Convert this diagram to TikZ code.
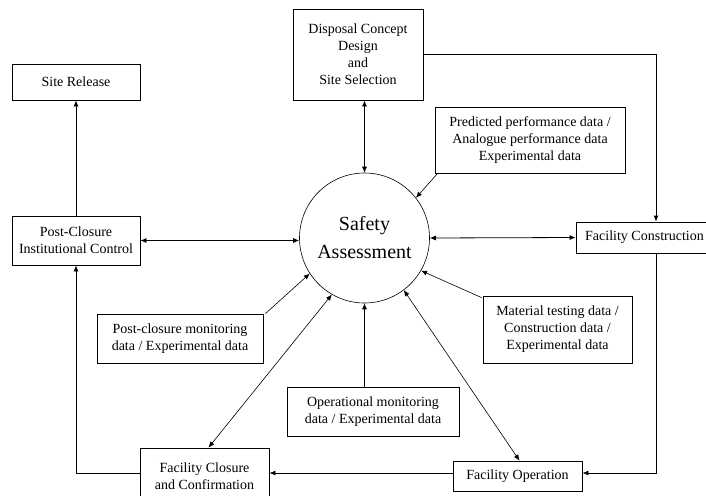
\documentclass[tikz,border=0pt]{standalone}
\usepackage{fontspec}
\setmainfont{Liberation Serif}
\usetikzlibrary{arrows.meta,calc}
\begin{document}
\begin{tikzpicture}[x=1pt,y=-1pt,
  box/.style={draw, line width=0.8pt, align=center, inner sep=0pt, font=\fontsize{14}{17}\selectfont},
  arr/.style={line width=0.8pt, -{Latex[length=6pt,width=5pt]}},
  darr/.style={line width=0.8pt, {Latex[length=6pt,width=5pt]}-{Latex[length=6pt,width=5pt]}},
  thinarr/.style={line width=0.6pt, {Latex[length=6pt,width=5pt]}-{Latex[length=6pt,width=5pt]}}]
\useasboundingbox[fill=white] (0,0) rectangle (706,495);
\node[box, minimum width=128, minimum height=36] (sr) at (76,82) {Site Release};
\node[box, minimum width=128, minimum height=49] (pc) at (76,240.5) {Post-Closure\\Institutional Control};
\node[box, minimum width=130, minimum height=91] (dc) at (358,54.5) {Disposal Concept\\Design\\and\\Site Selection};
\node[box, minimum width=190, minimum height=66] (pp) at (530,140) {Predicted performance data /\\Analogue performance data\\Experimental data};
\node[box, minimum width=137, minimum height=31] (fc) at (644.5,237.5) {Facility Construction};
\node[box, minimum width=129, minimum height=56] (fcl) at (204.5,476) {Facility Closure\\and Confirmation};
\node[box, minimum width=129, minimum height=30] (fo) at (517.5,476) {Facility Operation};
\node[box, minimum width=166, minimum height=49] (pcm) at (180,338.5) {Post-closure monitoring\\data / Experimental data};
\node[box, minimum width=172, minimum height=49] (om) at (373,411.5) {Operational monitoring\\data / Experimental data};
\node[box, minimum width=149, minimum height=67] (mt) at (557.5,329.5) {Material testing data /\\Construction data /\\Experimental data};
\node[draw, circle, line width=0.6pt, minimum size=130, inner sep=0pt, align=center, font=\fontsize{20}{28}\selectfont] (sa) at (364.5,238) {Safety\\Assessment};
% connectors
\draw[darr] (dc.south -| sa.north) -- (sa.north);
\draw[arr] (dc.east) -| ([xshift=11.5]fc.north);
\draw[darr] (pc.east) -- (sa.west |- pc.east);
\draw[darr] (sa.east) -- (fc.west);
\draw[arr, line width=0.6pt] ([xshift=3]pp.south west) -- (sa.38);
\draw[arr] (pc.north) -- (sr.south);
\draw[arr] ([yshift=3]fcl.west) -| (pc.south);
\draw[arr] ([xshift=11.5]fc.south) |- ([yshift=3]fo.east);
\draw[arr] ([yshift=3]fo.west) -- ([yshift=3]fcl.east);
\draw[arr, line width=0.6pt] ([xshift=2]pcm.north east) -- (sa.213);
\draw[thinarr] ([xshift=4]fcl.north) -- (sa.240);
\draw[arr] (sa.south |- om.north) -- (sa.south);
\draw[arr, line width=0.6pt] ([xshift=-1,yshift=-2]mt.north west) -- (sa.330);
\draw[thinarr] (sa.307) -- ([xshift=2]fo.north);
\end{tikzpicture}
\end{document}
